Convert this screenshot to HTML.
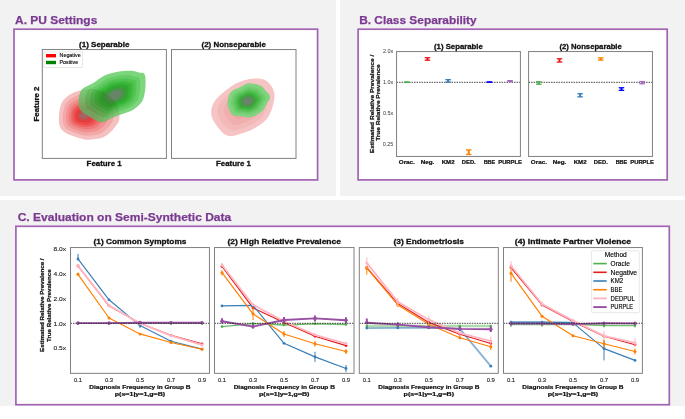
<!DOCTYPE html>
<html><head><meta charset="utf-8"><style>
html,body{margin:0;padding:0;background:#fff;overflow:hidden}
svg{display:block;will-change:transform}
text{font-family:"Liberation Sans", sans-serif}
</style></head><body>
<svg width="685" height="419" viewBox="0 0 685 419">
<rect x="0.00" y="0.00" width="685.00" height="419.00" fill="#ffffff" />
<rect x="0.00" y="0.00" width="336.00" height="196.20" fill="#f2f2f2" />
<rect x="340.00" y="0.00" width="345.00" height="196.20" fill="#f2f2f2" />
<rect x="0.00" y="200.20" width="685.00" height="205.80" fill="#f2f2f2" />
<rect x="14.00" y="29.20" width="303.60" height="150.70" fill="#ffffff" stroke="#a263b3" stroke-width="1.7" />
<rect x="358.10" y="29.20" width="309.10" height="150.70" fill="#ffffff" stroke="#a263b3" stroke-width="1.7" />
<rect x="15.90" y="226.30" width="653.40" height="178.40" fill="#ffffff" stroke="#a263b3" stroke-width="1.7" />
<text x="15.10" y="24.20" font-size="11.6" text-anchor="start" fill="#7b3a92" font-weight="bold" stroke="#7b3a92" stroke-width="0.250" textLength="82.20" lengthAdjust="spacingAndGlyphs">A. PU Settings</text>
<text x="359.20" y="24.10" font-size="11.6" text-anchor="start" fill="#7b3a92" font-weight="bold" stroke="#7b3a92" stroke-width="0.250" textLength="117.50" lengthAdjust="spacingAndGlyphs">B. Class Separability</text>
<text x="17.70" y="220.70" font-size="11.6" text-anchor="start" fill="#7b3a92" font-weight="bold" stroke="#7b3a92" stroke-width="0.250" textLength="213.50" lengthAdjust="spacingAndGlyphs">C. Evaluation on Semi-Synthetic Data</text>
<defs>
<clipPath id="cA1"><rect x="42.3" y="49.55" width="124.10000000000001" height="108.85000000000001"/></clipPath>
<clipPath id="cA2"><rect x="171.5" y="49.55" width="124.5" height="108.85000000000001"/></clipPath>
</defs>
<g clip-path="url(#cA1)">
<path d="M78.90,90.70 C75.28,91.58 73.03,92.50 70.30,94.30 C67.57,96.10 64.33,98.55 62.50,101.50 C60.67,104.45 59.87,108.32 59.30,112.00 C58.73,115.68 58.65,120.60 59.10,123.60 C59.55,126.60 60.13,128.08 62.00,130.00 C63.87,131.92 66.53,133.53 70.30,135.10 C74.07,136.67 80.48,138.75 84.60,139.40 C88.72,140.05 91.90,139.37 95.00,139.00 C98.10,138.63 100.63,138.33 103.20,137.20 C105.77,136.07 108.02,134.47 110.40,132.20 C112.78,129.93 115.98,126.13 117.50,123.60 C119.02,121.07 119.58,120.27 119.50,117.00 C119.42,113.73 119.42,108.00 117.00,104.00 C114.58,100.00 109.17,95.50 105.00,93.00 C100.83,90.50 96.35,89.38 92.00,89.00 C87.65,88.62 82.52,89.82 78.90,90.70Z" fill="#f5c0c0"/>
<path d="M79.59,94.67 C76.55,95.41 74.66,96.18 72.36,97.69 C70.07,99.20 67.35,101.26 65.81,103.74 C64.27,106.22 63.60,109.47 63.12,112.56 C62.65,115.65 62.58,119.78 62.96,122.30 C63.33,124.82 63.82,126.07 65.39,127.68 C66.96,129.29 69.20,130.65 72.36,131.96 C75.53,133.28 80.92,135.03 84.38,135.58 C87.83,136.12 90.51,135.55 93.11,135.24 C95.72,134.93 97.84,134.68 100.00,133.73 C102.16,132.78 104.05,131.43 106.05,129.53 C108.05,127.62 110.74,124.43 112.01,122.30 C113.29,120.18 113.76,119.50 113.69,116.76 C113.62,114.02 113.62,109.20 111.59,105.84 C109.56,102.48 105.01,98.70 101.51,96.60 C98.01,94.50 94.25,93.56 90.59,93.24 C86.94,92.92 82.63,93.93 79.59,94.67Z" fill="#f3a8a8"/>
<path d="M80.19,98.14 C77.66,98.76 76.08,99.40 74.17,100.66 C72.26,101.92 69.99,103.64 68.71,105.70 C67.43,107.77 66.87,110.47 66.47,113.05 C66.07,115.63 66.02,119.07 66.33,121.17 C66.64,123.27 67.05,124.31 68.36,125.65 C69.67,126.99 71.53,128.12 74.17,129.22 C76.81,130.32 81.30,131.78 84.18,132.23 C87.06,132.69 89.29,132.21 91.46,131.95 C93.63,131.69 95.40,131.48 97.20,130.69 C99.00,129.90 100.57,128.78 102.24,127.19 C103.91,125.60 106.15,122.94 107.21,121.17 C108.27,119.40 108.67,118.84 108.61,116.55 C108.55,114.26 108.55,110.25 106.86,107.45 C105.17,104.65 101.38,101.50 98.46,99.75 C95.54,98.00 92.41,97.22 89.36,96.95 C86.31,96.68 82.72,97.52 80.19,98.14Z" fill="#f19090"/>
<path d="M80.71,101.12 C78.61,101.63 77.30,102.16 75.72,103.20 C74.13,104.25 72.26,105.67 71.19,107.38 C70.13,109.09 69.67,111.33 69.34,113.47 C69.01,115.61 68.96,118.46 69.22,120.20 C69.48,121.94 69.82,122.80 70.90,123.91 C71.99,125.02 73.53,125.96 75.72,126.87 C77.90,127.78 81.62,128.98 84.01,129.36 C86.40,129.74 88.25,129.34 90.04,129.13 C91.84,128.92 93.31,128.74 94.80,128.09 C96.29,127.43 97.59,126.50 98.98,125.19 C100.36,123.87 102.21,121.67 103.09,120.20 C103.97,118.73 104.30,118.26 104.25,116.37 C104.21,114.48 104.21,111.15 102.80,108.83 C101.40,106.51 98.26,103.90 95.84,102.45 C93.43,101.00 90.83,100.35 88.30,100.13 C85.78,99.91 82.80,100.60 80.71,101.12Z" fill="#ef7878"/>
<path d="M81.14,103.60 C79.40,104.02 78.32,104.46 77.01,105.32 C75.70,106.19 74.14,107.36 73.26,108.78 C72.38,110.20 72.00,112.05 71.73,113.82 C71.46,115.59 71.42,117.95 71.63,119.39 C71.85,120.83 72.13,121.54 73.02,122.46 C73.92,123.38 75.20,124.16 77.01,124.91 C78.82,125.66 81.90,126.66 83.87,126.97 C85.85,127.28 87.38,126.96 88.86,126.78 C90.35,126.60 91.57,126.46 92.80,125.92 C94.03,125.37 95.11,124.60 96.26,123.52 C97.40,122.43 98.94,120.60 99.66,119.39 C100.39,118.17 100.66,117.79 100.62,116.22 C100.58,114.65 100.58,111.90 99.42,109.98 C98.26,108.06 95.66,105.90 93.66,104.70 C91.66,103.50 89.51,102.96 87.42,102.78 C85.34,102.60 82.87,103.17 81.14,103.60Z" fill="#ee6060"/>
<path d="M81.52,105.83 C80.11,106.17 79.23,106.53 78.17,107.23 C77.10,107.93 75.84,108.89 75.13,110.04 C74.41,111.19 74.10,112.70 73.88,114.14 C73.66,115.57 73.63,117.49 73.80,118.66 C73.98,119.83 74.20,120.41 74.93,121.16 C75.66,121.90 76.70,122.53 78.17,123.14 C79.64,123.76 82.14,124.57 83.75,124.82 C85.35,125.07 86.59,124.81 87.80,124.67 C89.01,124.52 90.00,124.41 91.00,123.96 C92.00,123.52 92.88,122.90 93.81,122.01 C94.74,121.13 95.99,119.65 96.58,118.66 C97.17,117.67 97.39,117.36 97.36,116.08 C97.32,114.81 97.32,112.58 96.38,111.02 C95.44,109.45 93.33,107.70 91.70,106.72 C90.08,105.75 88.33,105.31 86.63,105.16 C84.94,105.02 82.93,105.48 81.52,105.83Z" fill="#ee4848"/>
<path d="M81.91,108.06 C80.82,108.33 80.15,108.60 79.33,109.14 C78.51,109.68 77.54,110.41 76.99,111.30 C76.44,112.19 76.20,113.34 76.03,114.45 C75.86,115.56 75.83,117.03 75.97,117.93 C76.11,118.83 76.28,119.27 76.84,119.85 C77.40,120.42 78.20,120.91 79.33,121.38 C80.46,121.85 82.39,122.47 83.62,122.67 C84.86,122.87 85.81,122.66 86.74,122.55 C87.67,122.44 88.43,122.35 89.20,122.01 C89.97,121.67 90.64,121.19 91.36,120.51 C92.08,119.83 93.04,118.69 93.49,117.93 C93.95,117.17 94.12,116.93 94.09,115.95 C94.06,114.97 94.06,113.25 93.34,112.05 C92.62,110.85 90.99,109.50 89.74,108.75 C88.49,108.00 87.15,107.66 85.84,107.55 C84.53,107.44 83.00,107.80 81.91,108.06Z" fill="#e23e3e"/>
<path d="M82.34,110.54 C81.62,110.72 81.17,110.90 80.62,111.26 C80.07,111.62 79.43,112.11 79.06,112.70 C78.69,113.29 78.53,114.06 78.42,114.80 C78.31,115.54 78.29,116.52 78.38,117.12 C78.47,117.72 78.59,118.02 78.96,118.40 C79.33,118.78 79.87,119.11 80.62,119.42 C81.37,119.73 82.66,120.15 83.48,120.28 C84.30,120.41 84.94,120.27 85.56,120.20 C86.18,120.13 86.69,120.07 87.20,119.84 C87.71,119.61 88.16,119.29 88.64,118.84 C89.12,118.39 89.76,117.63 90.06,117.12 C90.36,116.61 90.48,116.45 90.46,115.80 C90.44,115.15 90.44,114.00 89.96,113.20 C89.48,112.40 88.39,111.50 87.56,111.00 C86.73,110.50 85.83,110.28 84.96,110.20 C84.09,110.12 83.06,110.36 82.34,110.54Z" fill="#c45050"/>
<path d="M82.73,112.77 C82.33,112.87 82.08,112.97 81.78,113.17 C81.48,113.37 81.12,113.64 80.92,113.96 C80.72,114.28 80.63,114.71 80.57,115.11 C80.51,115.52 80.50,116.06 80.55,116.39 C80.60,116.72 80.66,116.88 80.87,117.09 C81.07,117.31 81.37,117.48 81.78,117.66 C82.20,117.83 82.90,118.06 83.35,118.13 C83.81,118.20 84.16,118.13 84.50,118.08 C84.84,118.04 85.12,118.01 85.40,117.89 C85.68,117.76 85.93,117.59 86.19,117.34 C86.45,117.09 86.81,116.67 86.97,116.39 C87.14,116.11 87.20,116.02 87.19,115.67 C87.18,115.31 87.18,114.67 86.92,114.23 C86.65,113.80 86.06,113.30 85.60,113.03 C85.14,112.75 84.65,112.63 84.17,112.58 C83.69,112.54 83.12,112.67 82.73,112.77Z" fill="#a46666"/>
<g>
<path d="M144.70,74.50 C143.60,72.27 141.13,73.23 138.90,72.60 C136.67,71.97 134.80,70.85 131.30,70.70 C127.80,70.55 122.35,70.90 117.90,71.70 C113.45,72.50 108.72,73.60 104.60,75.50 C100.48,77.40 97.02,80.72 93.20,83.10 C89.38,85.48 84.10,87.10 81.70,89.80 C79.30,92.50 79.12,96.12 78.80,99.30 C78.48,102.48 78.27,106.20 79.80,108.90 C81.33,111.60 84.50,113.28 88.00,115.50 C91.50,117.72 97.13,121.62 100.80,122.20 C104.47,122.78 107.13,120.10 110.00,119.00 C112.87,117.90 114.45,116.97 118.00,115.60 C121.55,114.23 127.63,112.73 131.30,110.80 C134.97,108.87 137.93,106.23 140.00,104.00 C142.07,101.77 142.78,100.40 143.70,97.40 C144.62,94.40 145.33,89.82 145.50,86.00 C145.67,82.18 145.80,76.73 144.70,74.50Z" fill="#7dd67d"/>
<path d="M139.53,78.19 C138.63,76.36 136.61,77.15 134.78,76.63 C132.95,76.11 131.42,75.20 128.55,75.07 C125.68,74.95 121.21,75.24 117.56,75.89 C113.91,76.55 110.03,77.45 106.65,79.01 C103.28,80.57 100.43,83.29 97.30,85.24 C94.17,87.20 89.84,88.52 87.87,90.74 C85.91,92.95 85.76,95.92 85.50,98.53 C85.24,101.14 85.06,104.18 86.32,106.40 C87.57,108.61 90.17,109.99 93.04,111.81 C95.91,113.63 100.53,116.83 103.54,117.30 C106.54,117.78 108.73,115.58 111.08,114.68 C113.43,113.78 114.73,113.01 117.64,111.89 C120.55,110.77 125.54,109.54 128.55,107.96 C131.55,106.37 133.99,104.21 135.68,102.38 C137.37,100.55 137.96,99.43 138.71,96.97 C139.47,94.51 140.05,90.75 140.19,87.62 C140.33,84.49 140.44,80.02 139.53,78.19Z" fill="#66cd66"/>
<path d="M135.80,80.86 C135.04,79.31 133.34,79.98 131.80,79.54 C130.26,79.11 128.97,78.34 126.56,78.23 C124.14,78.13 120.38,78.37 117.31,78.92 C114.24,79.47 110.97,80.23 108.13,81.55 C105.29,82.86 102.90,85.14 100.27,86.79 C97.63,88.43 93.99,89.55 92.33,91.41 C90.68,93.27 90.55,95.77 90.33,97.97 C90.11,100.16 89.96,102.73 91.02,104.59 C92.08,106.45 94.27,107.62 96.68,109.14 C99.10,110.67 102.98,113.37 105.51,113.77 C108.04,114.17 109.88,112.32 111.86,111.56 C113.84,110.80 114.93,110.16 117.38,109.21 C119.83,108.27 124.03,107.24 126.56,105.90 C129.09,104.57 131.13,102.75 132.56,101.21 C133.99,99.67 134.48,98.73 135.11,96.66 C135.75,94.59 136.24,91.42 136.35,88.79 C136.47,86.16 136.56,82.40 135.80,80.86Z" fill="#52c452"/>
<path d="M132.65,83.11 C132.01,81.81 130.58,82.38 129.28,82.01 C127.99,81.64 126.90,80.99 124.87,80.91 C122.84,80.82 119.68,81.02 117.10,81.49 C114.52,81.95 111.78,82.59 109.39,83.69 C107.00,84.79 104.99,86.72 102.78,88.10 C100.56,89.48 97.50,90.42 96.11,91.98 C94.71,93.55 94.61,95.65 94.42,97.49 C94.24,99.34 94.11,101.50 95.00,103.06 C95.89,104.63 97.73,105.60 99.76,106.89 C101.79,108.18 105.06,110.44 107.18,110.78 C109.31,111.11 110.86,109.56 112.52,108.92 C114.18,108.28 115.10,107.74 117.16,106.95 C119.22,106.16 122.75,105.29 124.87,104.16 C127.00,103.04 128.72,101.52 129.92,100.22 C131.12,98.92 131.53,98.13 132.07,96.39 C132.60,94.65 133.01,91.99 133.11,89.78 C133.21,87.57 133.28,84.41 132.65,83.11Z" fill="#40bb40"/>
<path d="M130.06,84.95 C129.52,83.86 128.32,84.33 127.22,84.02 C126.13,83.71 125.21,83.17 123.50,83.09 C121.78,83.02 119.11,83.19 116.93,83.58 C114.75,83.97 112.43,84.51 110.41,85.44 C108.40,86.38 106.70,88.00 104.83,89.17 C102.96,90.34 100.37,91.13 99.19,92.45 C98.02,93.78 97.93,95.55 97.77,97.11 C97.62,98.67 97.51,100.49 98.26,101.81 C99.01,103.13 100.56,103.96 102.28,105.05 C104.00,106.13 106.76,108.04 108.55,108.33 C110.35,108.61 111.66,107.30 113.06,106.76 C114.46,106.22 115.24,105.76 116.98,105.09 C118.72,104.42 121.70,103.69 123.50,102.74 C125.29,101.79 126.75,100.50 127.76,99.41 C128.77,98.32 129.12,97.65 129.57,96.18 C130.02,94.71 130.37,92.46 130.46,90.59 C130.54,88.72 130.60,86.05 130.06,84.95Z" fill="#34b234"/>
<path d="M127.77,86.59 C127.32,85.68 126.30,86.08 125.39,85.82 C124.47,85.56 123.71,85.10 122.27,85.04 C120.84,84.98 118.60,85.12 116.78,85.45 C114.95,85.78 113.01,86.23 111.33,87.00 C109.64,87.78 108.22,89.14 106.65,90.12 C105.09,91.10 102.92,91.76 101.94,92.87 C100.95,93.97 100.88,95.46 100.75,96.76 C100.62,98.07 100.53,99.59 101.16,100.70 C101.79,101.81 103.08,102.50 104.52,103.41 C105.95,104.31 108.26,105.91 109.77,106.15 C111.27,106.39 112.36,105.29 113.54,104.84 C114.72,104.39 115.36,104.01 116.82,103.45 C118.28,102.89 120.77,102.27 122.27,101.48 C123.78,100.69 124.99,99.61 125.84,98.69 C126.69,97.77 126.98,97.21 127.36,95.98 C127.73,94.75 128.03,92.87 128.09,91.31 C128.16,89.75 128.22,87.51 127.77,86.59Z" fill="#30a830"/>
<path d="M125.47,88.23 C125.11,87.50 124.29,87.82 123.56,87.61 C122.82,87.40 122.20,87.03 121.05,86.98 C119.89,86.93 118.10,87.05 116.63,87.31 C115.16,87.58 113.60,87.94 112.24,88.56 C110.88,89.19 109.74,90.29 108.48,91.07 C107.22,91.86 105.47,92.39 104.68,93.28 C103.89,94.17 103.83,95.37 103.72,96.42 C103.62,97.47 103.55,98.70 104.05,99.59 C104.56,100.48 105.61,101.03 106.76,101.77 C107.92,102.50 109.77,103.78 110.98,103.98 C112.19,104.17 113.07,103.28 114.02,102.92 C114.97,102.56 115.49,102.25 116.66,101.80 C117.83,101.35 119.84,100.85 121.05,100.21 C122.26,99.58 123.24,98.71 123.92,97.97 C124.60,97.23 124.84,96.78 125.14,95.79 C125.44,94.80 125.68,93.29 125.73,92.03 C125.79,90.77 125.83,88.97 125.47,88.23Z" fill="#3c9c3c"/>
<path d="M123.17,89.88 C122.90,89.32 122.28,89.56 121.72,89.40 C121.17,89.24 120.70,88.96 119.83,88.92 C118.95,88.89 117.59,88.97 116.47,89.17 C115.36,89.38 114.18,89.65 113.15,90.12 C112.12,90.60 111.25,91.43 110.30,92.03 C109.35,92.62 108.02,93.03 107.42,93.70 C106.83,94.38 106.78,95.28 106.70,96.08 C106.62,96.87 106.57,97.80 106.95,98.47 C107.33,99.15 108.12,99.57 109.00,100.12 C109.88,100.68 111.28,101.65 112.20,101.80 C113.12,101.95 113.78,101.28 114.50,101.00 C115.22,100.72 115.61,100.49 116.50,100.15 C117.39,99.81 118.91,99.43 119.83,98.95 C120.74,98.47 121.48,97.81 122.00,97.25 C122.52,96.69 122.70,96.35 122.92,95.60 C123.15,94.85 123.33,93.70 123.38,92.75 C123.42,91.80 123.45,90.43 123.17,89.88Z" fill="#558d55"/>
<path d="M120.59,91.72 C120.42,91.36 120.02,91.52 119.66,91.42 C119.31,91.31 119.01,91.14 118.45,91.11 C117.89,91.09 117.02,91.14 116.30,91.27 C115.59,91.40 114.83,91.58 114.18,91.88 C113.52,92.18 112.96,92.71 112.35,93.10 C111.74,93.48 110.90,93.74 110.51,94.17 C110.13,94.60 110.10,95.18 110.05,95.69 C110.00,96.20 109.96,96.79 110.21,97.22 C110.45,97.66 110.96,97.93 111.52,98.28 C112.08,98.63 112.98,99.26 113.57,99.35 C114.15,99.45 114.58,99.02 115.04,98.84 C115.50,98.66 115.75,98.51 116.32,98.30 C116.89,98.08 117.86,97.84 118.45,97.53 C119.03,97.22 119.51,96.80 119.84,96.44 C120.17,96.08 120.29,95.86 120.43,95.38 C120.58,94.90 120.69,94.17 120.72,93.56 C120.75,92.95 120.77,92.08 120.59,91.72Z" fill="#6a846a"/>
</g>
<clipPath id="cG1"><path d="M144.70,74.50 C143.60,72.27 141.13,73.23 138.90,72.60 C136.67,71.97 134.80,70.85 131.30,70.70 C127.80,70.55 122.35,70.90 117.90,71.70 C113.45,72.50 108.72,73.60 104.60,75.50 C100.48,77.40 97.02,80.72 93.20,83.10 C89.38,85.48 84.10,87.10 81.70,89.80 C79.30,92.50 79.12,96.12 78.80,99.30 C78.48,102.48 78.27,106.20 79.80,108.90 C81.33,111.60 84.50,113.28 88.00,115.50 C91.50,117.72 97.13,121.62 100.80,122.20 C104.47,122.78 107.13,120.10 110.00,119.00 C112.87,117.90 114.45,116.97 118.00,115.60 C121.55,114.23 127.63,112.73 131.30,110.80 C134.97,108.87 137.93,106.23 140.00,104.00 C142.07,101.77 142.78,100.40 143.70,97.40 C144.62,94.40 145.33,89.82 145.50,86.00 C145.67,82.18 145.80,76.73 144.70,74.50Z"/></clipPath>
<g clip-path="url(#cG1)" opacity="0.35" style="mix-blend-mode:multiply">
<path d="M78.90,90.70 C75.28,91.58 73.03,92.50 70.30,94.30 C67.57,96.10 64.33,98.55 62.50,101.50 C60.67,104.45 59.87,108.32 59.30,112.00 C58.73,115.68 58.65,120.60 59.10,123.60 C59.55,126.60 60.13,128.08 62.00,130.00 C63.87,131.92 66.53,133.53 70.30,135.10 C74.07,136.67 80.48,138.75 84.60,139.40 C88.72,140.05 91.90,139.37 95.00,139.00 C98.10,138.63 100.63,138.33 103.20,137.20 C105.77,136.07 108.02,134.47 110.40,132.20 C112.78,129.93 115.98,126.13 117.50,123.60 C119.02,121.07 119.58,120.27 119.50,117.00 C119.42,113.73 119.42,108.00 117.00,104.00 C114.58,100.00 109.17,95.50 105.00,93.00 C100.83,90.50 96.35,89.38 92.00,89.00 C87.65,88.62 82.52,89.82 78.90,90.70Z" fill="#f5c0c0"/>
<path d="M79.59,94.67 C76.55,95.41 74.66,96.18 72.36,97.69 C70.07,99.20 67.35,101.26 65.81,103.74 C64.27,106.22 63.60,109.47 63.12,112.56 C62.65,115.65 62.58,119.78 62.96,122.30 C63.33,124.82 63.82,126.07 65.39,127.68 C66.96,129.29 69.20,130.65 72.36,131.96 C75.53,133.28 80.92,135.03 84.38,135.58 C87.83,136.12 90.51,135.55 93.11,135.24 C95.72,134.93 97.84,134.68 100.00,133.73 C102.16,132.78 104.05,131.43 106.05,129.53 C108.05,127.62 110.74,124.43 112.01,122.30 C113.29,120.18 113.76,119.50 113.69,116.76 C113.62,114.02 113.62,109.20 111.59,105.84 C109.56,102.48 105.01,98.70 101.51,96.60 C98.01,94.50 94.25,93.56 90.59,93.24 C86.94,92.92 82.63,93.93 79.59,94.67Z" fill="#f3a8a8"/>
<path d="M80.19,98.14 C77.66,98.76 76.08,99.40 74.17,100.66 C72.26,101.92 69.99,103.64 68.71,105.70 C67.43,107.77 66.87,110.47 66.47,113.05 C66.07,115.63 66.02,119.07 66.33,121.17 C66.64,123.27 67.05,124.31 68.36,125.65 C69.67,126.99 71.53,128.12 74.17,129.22 C76.81,130.32 81.30,131.78 84.18,132.23 C87.06,132.69 89.29,132.21 91.46,131.95 C93.63,131.69 95.40,131.48 97.20,130.69 C99.00,129.90 100.57,128.78 102.24,127.19 C103.91,125.60 106.15,122.94 107.21,121.17 C108.27,119.40 108.67,118.84 108.61,116.55 C108.55,114.26 108.55,110.25 106.86,107.45 C105.17,104.65 101.38,101.50 98.46,99.75 C95.54,98.00 92.41,97.22 89.36,96.95 C86.31,96.68 82.72,97.52 80.19,98.14Z" fill="#f19090"/>
<path d="M80.71,101.12 C78.61,101.63 77.30,102.16 75.72,103.20 C74.13,104.25 72.26,105.67 71.19,107.38 C70.13,109.09 69.67,111.33 69.34,113.47 C69.01,115.61 68.96,118.46 69.22,120.20 C69.48,121.94 69.82,122.80 70.90,123.91 C71.99,125.02 73.53,125.96 75.72,126.87 C77.90,127.78 81.62,128.98 84.01,129.36 C86.40,129.74 88.25,129.34 90.04,129.13 C91.84,128.92 93.31,128.74 94.80,128.09 C96.29,127.43 97.59,126.50 98.98,125.19 C100.36,123.87 102.21,121.67 103.09,120.20 C103.97,118.73 104.30,118.26 104.25,116.37 C104.21,114.48 104.21,111.15 102.80,108.83 C101.40,106.51 98.26,103.90 95.84,102.45 C93.43,101.00 90.83,100.35 88.30,100.13 C85.78,99.91 82.80,100.60 80.71,101.12Z" fill="#ef7878"/>
<path d="M81.14,103.60 C79.40,104.02 78.32,104.46 77.01,105.32 C75.70,106.19 74.14,107.36 73.26,108.78 C72.38,110.20 72.00,112.05 71.73,113.82 C71.46,115.59 71.42,117.95 71.63,119.39 C71.85,120.83 72.13,121.54 73.02,122.46 C73.92,123.38 75.20,124.16 77.01,124.91 C78.82,125.66 81.90,126.66 83.87,126.97 C85.85,127.28 87.38,126.96 88.86,126.78 C90.35,126.60 91.57,126.46 92.80,125.92 C94.03,125.37 95.11,124.60 96.26,123.52 C97.40,122.43 98.94,120.60 99.66,119.39 C100.39,118.17 100.66,117.79 100.62,116.22 C100.58,114.65 100.58,111.90 99.42,109.98 C98.26,108.06 95.66,105.90 93.66,104.70 C91.66,103.50 89.51,102.96 87.42,102.78 C85.34,102.60 82.87,103.17 81.14,103.60Z" fill="#ee6060"/>
<path d="M81.52,105.83 C80.11,106.17 79.23,106.53 78.17,107.23 C77.10,107.93 75.84,108.89 75.13,110.04 C74.41,111.19 74.10,112.70 73.88,114.14 C73.66,115.57 73.63,117.49 73.80,118.66 C73.98,119.83 74.20,120.41 74.93,121.16 C75.66,121.90 76.70,122.53 78.17,123.14 C79.64,123.76 82.14,124.57 83.75,124.82 C85.35,125.07 86.59,124.81 87.80,124.67 C89.01,124.52 90.00,124.41 91.00,123.96 C92.00,123.52 92.88,122.90 93.81,122.01 C94.74,121.13 95.99,119.65 96.58,118.66 C97.17,117.67 97.39,117.36 97.36,116.08 C97.32,114.81 97.32,112.58 96.38,111.02 C95.44,109.45 93.33,107.70 91.70,106.72 C90.08,105.75 88.33,105.31 86.63,105.16 C84.94,105.02 82.93,105.48 81.52,105.83Z" fill="#ee4848"/>
<path d="M81.91,108.06 C80.82,108.33 80.15,108.60 79.33,109.14 C78.51,109.68 77.54,110.41 76.99,111.30 C76.44,112.19 76.20,113.34 76.03,114.45 C75.86,115.56 75.83,117.03 75.97,117.93 C76.11,118.83 76.28,119.27 76.84,119.85 C77.40,120.42 78.20,120.91 79.33,121.38 C80.46,121.85 82.39,122.47 83.62,122.67 C84.86,122.87 85.81,122.66 86.74,122.55 C87.67,122.44 88.43,122.35 89.20,122.01 C89.97,121.67 90.64,121.19 91.36,120.51 C92.08,119.83 93.04,118.69 93.49,117.93 C93.95,117.17 94.12,116.93 94.09,115.95 C94.06,114.97 94.06,113.25 93.34,112.05 C92.62,110.85 90.99,109.50 89.74,108.75 C88.49,108.00 87.15,107.66 85.84,107.55 C84.53,107.44 83.00,107.80 81.91,108.06Z" fill="#e23e3e"/>
<path d="M82.34,110.54 C81.62,110.72 81.17,110.90 80.62,111.26 C80.07,111.62 79.43,112.11 79.06,112.70 C78.69,113.29 78.53,114.06 78.42,114.80 C78.31,115.54 78.29,116.52 78.38,117.12 C78.47,117.72 78.59,118.02 78.96,118.40 C79.33,118.78 79.87,119.11 80.62,119.42 C81.37,119.73 82.66,120.15 83.48,120.28 C84.30,120.41 84.94,120.27 85.56,120.20 C86.18,120.13 86.69,120.07 87.20,119.84 C87.71,119.61 88.16,119.29 88.64,118.84 C89.12,118.39 89.76,117.63 90.06,117.12 C90.36,116.61 90.48,116.45 90.46,115.80 C90.44,115.15 90.44,114.00 89.96,113.20 C89.48,112.40 88.39,111.50 87.56,111.00 C86.73,110.50 85.83,110.28 84.96,110.20 C84.09,110.12 83.06,110.36 82.34,110.54Z" fill="#c45050"/>
<path d="M82.73,112.77 C82.33,112.87 82.08,112.97 81.78,113.17 C81.48,113.37 81.12,113.64 80.92,113.96 C80.72,114.28 80.63,114.71 80.57,115.11 C80.51,115.52 80.50,116.06 80.55,116.39 C80.60,116.72 80.66,116.88 80.87,117.09 C81.07,117.31 81.37,117.48 81.78,117.66 C82.20,117.83 82.90,118.06 83.35,118.13 C83.81,118.20 84.16,118.13 84.50,118.08 C84.84,118.04 85.12,118.01 85.40,117.89 C85.68,117.76 85.93,117.59 86.19,117.34 C86.45,117.09 86.81,116.67 86.97,116.39 C87.14,116.11 87.20,116.02 87.19,115.67 C87.18,115.31 87.18,114.67 86.92,114.23 C86.65,113.80 86.06,113.30 85.60,113.03 C85.14,112.75 84.65,112.63 84.17,112.58 C83.69,112.54 83.12,112.67 82.73,112.77Z" fill="#a46666"/>
</g></g>
<g clip-path="url(#cA2)">
<path d="M255.30,78.50 C259.37,78.50 263.58,78.73 266.70,80.90 C269.82,83.07 272.92,87.57 274.00,91.50 C275.08,95.43 274.42,99.90 273.20,104.50 C271.98,109.10 269.95,115.05 266.70,119.10 C263.45,123.15 258.15,126.32 253.70,128.80 C249.25,131.28 244.05,132.78 240.00,134.00 C235.95,135.22 232.67,136.70 229.40,136.10 C226.13,135.50 223.38,133.78 220.40,130.40 C217.42,127.02 212.45,120.67 211.50,115.80 C210.55,110.93 211.45,106.07 214.70,101.20 C217.95,96.33 226.40,89.98 231.00,86.60 C235.60,83.22 238.25,82.25 242.30,80.90 C246.35,79.55 251.23,78.50 255.30,78.50Z" fill="#f6c4c4"/>
<path d="M252.84,84.40 C256.09,84.40 259.47,84.59 261.96,86.32 C264.45,88.05 266.93,91.65 267.80,94.80 C268.67,97.95 268.13,101.52 267.16,105.20 C266.19,108.88 264.56,113.64 261.96,116.88 C259.36,120.12 255.12,122.65 251.56,124.64 C248.00,126.63 243.84,127.83 240.60,128.80 C237.36,129.77 234.73,130.96 232.12,130.48 C229.51,130.00 227.31,128.63 224.92,125.92 C222.53,123.21 218.56,118.13 217.80,114.24 C217.04,110.35 217.76,106.45 220.36,102.56 C222.96,98.67 229.72,93.59 233.40,90.88 C237.08,88.17 239.20,87.40 242.44,86.32 C245.68,85.24 249.59,84.40 252.84,84.40Z" fill="#f3b8b8"/>
<path d="M250.38,90.30 C252.82,90.30 255.35,90.44 257.22,91.74 C259.09,93.04 260.95,95.74 261.60,98.10 C262.25,100.46 261.85,103.14 261.12,105.90 C260.39,108.66 259.17,112.23 257.22,114.66 C255.27,117.09 252.09,118.99 249.42,120.48 C246.75,121.97 243.63,122.87 241.20,123.60 C238.77,124.33 236.80,125.22 234.84,124.86 C232.88,124.50 231.23,123.47 229.44,121.44 C227.65,119.41 224.67,115.60 224.10,112.68 C223.53,109.76 224.07,106.84 226.02,103.92 C227.97,101.00 233.04,97.19 235.80,95.16 C238.56,93.13 240.15,92.55 242.58,91.74 C245.01,90.93 247.94,90.30 250.38,90.30Z" fill="#f1aeae"/>
<path d="M247.92,96.20 C249.55,96.20 251.23,96.29 252.48,97.16 C253.73,98.03 254.97,99.83 255.40,101.40 C255.83,102.97 255.57,104.76 255.08,106.60 C254.59,108.44 253.78,110.82 252.48,112.44 C251.18,114.06 249.06,115.33 247.28,116.32 C245.50,117.31 243.42,117.91 241.80,118.40 C240.18,118.89 238.87,119.48 237.56,119.24 C236.25,119.00 235.15,118.31 233.96,116.96 C232.77,115.61 230.78,113.07 230.40,111.12 C230.02,109.17 230.38,107.23 231.68,105.28 C232.98,103.33 236.36,100.79 238.20,99.44 C240.04,98.09 241.10,97.70 242.72,97.16 C244.34,96.62 246.29,96.20 247.92,96.20Z" fill="#efa4a4"/>
<g>
<path d="M268.71,93.87 C269.46,95.11 270.19,96.68 269.98,98.13 C269.78,99.58 268.29,101.17 267.50,102.59 C266.72,104.02 266.07,105.31 265.26,106.69 C264.45,108.06 263.81,109.62 262.63,110.83 C261.45,112.05 259.76,113.02 258.18,113.96 C256.60,114.91 254.93,115.95 253.17,116.52 C251.41,117.09 249.39,117.41 247.62,117.39 C245.85,117.37 244.28,116.58 242.56,116.38 C240.83,116.17 239.00,116.43 237.27,116.17 C235.54,115.90 233.41,115.65 232.16,114.79 C230.90,113.92 230.43,112.25 229.77,110.95 C229.11,109.66 228.60,108.37 228.20,107.03 C227.79,105.70 227.33,104.33 227.34,102.92 C227.35,101.51 227.89,100.06 228.25,98.58 C228.61,97.11 228.69,95.48 229.49,94.07 C230.29,92.66 231.54,91.14 233.02,90.13 C234.51,89.11 236.72,88.77 238.40,88.00 C240.08,87.23 241.43,86.29 243.10,85.51 C244.76,84.73 246.60,83.62 248.39,83.31 C250.18,83.01 252.11,83.40 253.84,83.67 C255.57,83.94 257.29,84.33 258.79,84.94 C260.30,85.54 261.74,86.35 262.86,87.30 C263.97,88.25 264.53,89.57 265.50,90.66 C266.48,91.76 267.97,92.62 268.71,93.87Z" fill="#80d480"/>
<path d="M264.90,95.24 C265.51,96.26 266.10,97.54 265.94,98.74 C265.77,99.93 264.55,101.23 263.90,102.40 C263.26,103.57 262.73,104.63 262.06,105.75 C261.40,106.88 260.88,108.16 259.91,109.15 C258.94,110.15 257.55,110.94 256.26,111.72 C254.96,112.50 253.59,113.35 252.15,113.81 C250.71,114.28 249.05,114.55 247.60,114.53 C246.15,114.51 244.86,113.87 243.45,113.70 C242.03,113.53 240.53,113.75 239.11,113.53 C237.69,113.31 235.94,113.11 234.92,112.39 C233.89,111.68 233.50,110.31 232.96,109.25 C232.42,108.19 232.01,107.14 231.67,106.04 C231.34,104.94 230.96,103.82 230.97,102.67 C230.97,101.51 231.42,100.32 231.71,99.11 C232.01,97.90 232.08,96.57 232.73,95.41 C233.38,94.25 234.41,93.00 235.63,92.17 C236.85,91.34 238.66,91.06 240.04,90.43 C241.42,89.80 242.52,89.03 243.89,88.39 C245.26,87.75 246.76,86.84 248.23,86.59 C249.70,86.34 251.28,86.66 252.70,86.88 C254.12,87.10 255.53,87.42 256.76,87.92 C257.99,88.41 259.18,89.07 260.09,89.86 C261.01,90.64 261.46,91.72 262.26,92.61 C263.06,93.51 264.28,94.22 264.90,95.24Z" fill="#70cd70"/>
<path d="M262.14,96.23 C262.65,97.09 263.15,98.17 263.01,99.17 C262.87,100.18 261.85,101.27 261.30,102.25 C260.76,103.24 260.32,104.13 259.76,105.08 C259.20,106.03 258.76,107.10 257.94,107.94 C257.13,108.78 255.96,109.45 254.87,110.10 C253.78,110.75 252.63,111.47 251.41,111.86 C250.20,112.26 248.80,112.48 247.58,112.46 C246.36,112.45 245.28,111.91 244.09,111.77 C242.90,111.63 241.64,111.81 240.44,111.62 C239.24,111.44 237.77,111.27 236.91,110.67 C236.05,110.07 235.72,108.91 235.26,108.02 C234.81,107.13 234.46,106.24 234.18,105.32 C233.90,104.39 233.58,103.45 233.59,102.48 C233.59,101.51 233.97,100.50 234.22,99.49 C234.46,98.47 234.52,97.35 235.07,96.38 C235.62,95.40 236.49,94.35 237.51,93.65 C238.54,92.95 240.06,92.71 241.22,92.18 C242.38,91.65 243.31,91.01 244.46,90.47 C245.61,89.93 246.88,89.16 248.12,88.95 C249.35,88.74 250.68,89.01 251.87,89.20 C253.07,89.38 254.26,89.65 255.29,90.07 C256.33,90.49 257.32,91.04 258.10,91.70 C258.87,92.36 259.25,93.27 259.92,94.02 C260.60,94.78 261.62,95.38 262.14,96.23Z" fill="#5ec55e"/>
<path d="M259.80,97.07 C260.24,97.80 260.66,98.70 260.54,99.55 C260.42,100.39 259.56,101.31 259.10,102.13 C258.65,102.96 258.27,103.71 257.80,104.51 C257.33,105.31 256.96,106.21 256.28,106.91 C255.59,107.62 254.61,108.18 253.69,108.73 C252.78,109.28 251.81,109.88 250.79,110.21 C249.77,110.54 248.60,110.73 247.57,110.72 C246.54,110.70 245.63,110.25 244.63,110.13 C243.63,110.01 242.57,110.16 241.57,110.01 C240.56,109.85 239.33,109.71 238.60,109.21 C237.87,108.70 237.60,107.73 237.21,106.98 C236.83,106.23 236.54,105.49 236.31,104.71 C236.07,103.93 235.80,103.14 235.81,102.32 C235.81,101.51 236.13,100.66 236.33,99.81 C236.54,98.95 236.59,98.01 237.05,97.19 C237.52,96.37 238.24,95.49 239.10,94.90 C239.96,94.32 241.25,94.11 242.22,93.67 C243.20,93.22 243.98,92.68 244.95,92.23 C245.91,91.77 246.98,91.13 248.02,90.95 C249.06,90.77 250.17,91.00 251.18,91.16 C252.18,91.32 253.18,91.54 254.05,91.89 C254.92,92.24 255.76,92.71 256.41,93.26 C257.05,93.82 257.38,94.58 257.94,95.21 C258.51,95.85 259.37,96.35 259.80,97.07Z" fill="#4cbd4c"/>
<path d="M257.89,97.76 C258.26,98.37 258.62,99.14 258.52,99.85 C258.42,100.56 257.69,101.34 257.30,102.04 C256.92,102.73 256.60,103.37 256.20,104.04 C255.81,104.71 255.49,105.48 254.91,106.07 C254.34,106.67 253.51,107.14 252.73,107.61 C251.96,108.07 251.14,108.58 250.28,108.86 C249.42,109.14 248.43,109.30 247.56,109.29 C246.69,109.28 245.92,108.89 245.08,108.79 C244.23,108.69 243.34,108.82 242.49,108.69 C241.64,108.56 240.59,108.44 239.98,108.01 C239.37,107.58 239.13,106.77 238.81,106.13 C238.49,105.50 238.24,104.87 238.04,104.21 C237.84,103.56 237.62,102.89 237.62,102.20 C237.63,101.51 237.89,100.79 238.07,100.07 C238.24,99.35 238.29,98.55 238.68,97.86 C239.07,97.17 239.68,96.42 240.41,95.93 C241.13,95.43 242.22,95.26 243.04,94.88 C243.86,94.51 244.53,94.05 245.34,93.67 C246.16,93.28 247.06,92.74 247.94,92.59 C248.81,92.44 249.76,92.63 250.61,92.76 C251.46,92.90 252.30,93.09 253.03,93.38 C253.77,93.68 254.48,94.07 255.02,94.54 C255.57,95.01 255.84,95.65 256.32,96.19 C256.80,96.73 257.53,97.15 257.89,97.76Z" fill="#3eb43e"/>
<path d="M256.20,98.37 C256.50,98.88 256.80,99.52 256.72,100.12 C256.64,100.71 256.02,101.36 255.70,101.95 C255.38,102.53 255.12,103.06 254.78,103.63 C254.45,104.19 254.19,104.83 253.70,105.33 C253.22,105.82 252.53,106.22 251.88,106.61 C251.23,107.00 250.55,107.42 249.83,107.66 C249.10,107.89 248.27,108.02 247.55,108.02 C246.82,108.01 246.18,107.68 245.47,107.60 C244.77,107.52 244.02,107.62 243.31,107.51 C242.59,107.41 241.72,107.30 241.21,106.95 C240.70,106.59 240.50,105.91 240.23,105.38 C239.96,104.85 239.75,104.32 239.59,103.77 C239.42,103.22 239.23,102.66 239.23,102.08 C239.24,101.51 239.46,100.91 239.61,100.30 C239.75,99.70 239.79,99.03 240.12,98.45 C240.44,97.88 240.96,97.25 241.56,96.84 C242.17,96.42 243.08,96.28 243.77,95.96 C244.46,95.65 245.01,95.27 245.70,94.95 C246.38,94.63 247.13,94.17 247.87,94.04 C248.60,93.92 249.39,94.08 250.10,94.19 C250.81,94.30 251.51,94.46 252.13,94.71 C252.75,94.96 253.34,95.29 253.80,95.68 C254.25,96.07 254.48,96.61 254.88,97.06 C255.28,97.51 255.89,97.86 256.20,98.37Z" fill="#3aa83a"/>
<path d="M254.71,98.91 C254.97,99.33 255.21,99.86 255.14,100.35 C255.08,100.85 254.57,101.39 254.30,101.87 C254.03,102.36 253.82,102.80 253.54,103.26 C253.26,103.73 253.05,104.26 252.64,104.67 C252.24,105.09 251.67,105.42 251.13,105.74 C250.60,106.06 250.03,106.41 249.43,106.61 C248.83,106.80 248.14,106.91 247.54,106.90 C246.94,106.90 246.41,106.63 245.82,106.56 C245.23,106.49 244.61,106.58 244.02,106.49 C243.43,106.40 242.71,106.31 242.28,106.02 C241.86,105.72 241.69,105.15 241.47,104.71 C241.25,104.27 241.08,103.84 240.94,103.38 C240.80,102.93 240.64,102.46 240.65,101.98 C240.65,101.50 240.83,101.01 240.95,100.51 C241.08,100.01 241.11,99.45 241.38,98.97 C241.65,98.50 242.07,97.98 242.58,97.63 C243.08,97.29 243.84,97.17 244.41,96.91 C244.98,96.65 245.44,96.33 246.00,96.06 C246.57,95.80 247.19,95.42 247.80,95.32 C248.41,95.21 249.07,95.35 249.66,95.44 C250.25,95.53 250.83,95.66 251.34,95.87 C251.85,96.07 252.34,96.35 252.72,96.67 C253.10,97.00 253.29,97.44 253.62,97.82 C253.95,98.19 254.46,98.48 254.71,98.91Z" fill="#489a48"/>
<path d="M253.23,99.44 C253.43,99.78 253.63,100.20 253.57,100.59 C253.52,100.98 253.11,101.41 252.90,101.80 C252.69,102.18 252.52,102.53 252.30,102.90 C252.08,103.27 251.90,103.69 251.59,104.02 C251.27,104.35 250.81,104.61 250.38,104.87 C249.96,105.12 249.51,105.40 249.03,105.55 C248.56,105.71 248.01,105.80 247.53,105.79 C247.05,105.78 246.63,105.57 246.17,105.52 C245.70,105.46 245.21,105.53 244.74,105.46 C244.27,105.39 243.69,105.32 243.36,105.09 C243.02,104.85 242.89,104.40 242.71,104.05 C242.53,103.70 242.40,103.36 242.29,102.99 C242.18,102.63 242.05,102.26 242.06,101.88 C242.06,101.50 242.21,101.11 242.30,100.71 C242.40,100.31 242.42,99.88 242.64,99.49 C242.85,99.11 243.19,98.70 243.59,98.43 C243.99,98.16 244.59,98.06 245.04,97.85 C245.50,97.65 245.86,97.39 246.31,97.18 C246.76,96.97 247.26,96.67 247.74,96.59 C248.22,96.51 248.74,96.61 249.21,96.69 C249.68,96.76 250.14,96.86 250.55,97.03 C250.96,97.19 251.34,97.41 251.65,97.67 C251.95,97.92 252.10,98.28 252.36,98.57 C252.62,98.87 253.03,99.10 253.23,99.44Z" fill="#5a8c5a"/>
<path d="M251.74,99.97 C251.89,100.22 252.04,100.54 252.00,100.83 C251.96,101.12 251.66,101.43 251.50,101.72 C251.34,102.00 251.21,102.26 251.05,102.54 C250.89,102.81 250.76,103.12 250.53,103.37 C250.29,103.61 249.95,103.80 249.64,103.99 C249.32,104.18 248.99,104.39 248.63,104.50 C248.28,104.62 247.88,104.68 247.52,104.68 C247.17,104.67 246.86,104.52 246.51,104.48 C246.17,104.43 245.80,104.49 245.45,104.43 C245.11,104.38 244.68,104.33 244.43,104.16 C244.18,103.98 244.09,103.65 243.95,103.39 C243.82,103.13 243.72,102.87 243.64,102.61 C243.56,102.34 243.47,102.07 243.47,101.78 C243.47,101.50 243.58,101.21 243.65,100.92 C243.72,100.62 243.74,100.30 243.90,100.01 C244.06,99.73 244.31,99.43 244.60,99.23 C244.90,99.02 245.34,98.95 245.68,98.80 C246.02,98.65 246.29,98.46 246.62,98.30 C246.95,98.15 247.32,97.92 247.68,97.86 C248.04,97.80 248.42,97.88 248.77,97.93 C249.11,97.99 249.46,98.07 249.76,98.19 C250.06,98.31 250.35,98.47 250.57,98.66 C250.79,98.85 250.91,99.11 251.10,99.33 C251.30,99.55 251.59,99.72 251.74,99.97Z" fill="#6a846a"/>
</g></g>
<rect x="42.30" y="49.55" width="124.10" height="108.85" fill="none" stroke="#808080" stroke-width="1.0" />
<rect x="171.50" y="49.55" width="124.50" height="108.85" fill="none" stroke="#808080" stroke-width="1.0" />
<rect x="44.00" y="52.00" width="38.60" height="15.40" fill="rgba(255,255,255,0.8)" stroke="#d0d0d0" stroke-width="0.5" />
<rect x="46.00" y="54.00" width="10.00" height="3.40" fill="#ff0000" />
<rect x="46.00" y="60.80" width="10.00" height="3.40" fill="#008000" />
<text x="59.60" y="57.30" font-size="4.8" text-anchor="start" fill="#000000" stroke="#000000" stroke-width="0.120" textLength="21.00" lengthAdjust="spacingAndGlyphs">Negative</text>
<text x="59.60" y="64.10" font-size="4.8" text-anchor="start" fill="#000000" stroke="#000000" stroke-width="0.120" textLength="18.50" lengthAdjust="spacingAndGlyphs">Positive</text>
<text x="104.20" y="46.90" font-size="7" text-anchor="middle" fill="#111111" font-weight="bold" stroke="#111111" stroke-width="0.280" textLength="50.40" lengthAdjust="spacingAndGlyphs">(1) Separable</text>
<text x="233.70" y="46.80" font-size="7" text-anchor="middle" fill="#111111" font-weight="bold" stroke="#111111" stroke-width="0.280" textLength="64.30" lengthAdjust="spacingAndGlyphs">(2) Nonseparable</text>
<text x="104.10" y="166.10" font-size="7" text-anchor="middle" fill="#111111" font-weight="bold" stroke="#111111" stroke-width="0.280" textLength="35.00" lengthAdjust="spacingAndGlyphs">Feature 1</text>
<text x="233.50" y="166.00" font-size="7" text-anchor="middle" fill="#111111" font-weight="bold" stroke="#111111" stroke-width="0.280" textLength="35.00" lengthAdjust="spacingAndGlyphs">Feature 1</text>
<text x="39.00" y="104.00" font-size="7" text-anchor="middle" fill="#111111" font-weight="bold" stroke="#111111" stroke-width="0.280" textLength="35.00" lengthAdjust="spacingAndGlyphs" transform="rotate(-90 39.00 104.00)">Feature 2</text>
<line x1="396.55" y1="82.30" x2="520.40" y2="82.30" stroke="#222222" stroke-width="0.85" stroke-dasharray="1.5,1"/>
<rect x="396.55" y="51.55" width="123.85" height="104.90" fill="none" stroke="#808080" stroke-width="1.0" />
<line x1="528.60" y1="82.30" x2="652.45" y2="82.30" stroke="#222222" stroke-width="0.85" stroke-dasharray="1.5,1"/>
<rect x="528.60" y="51.55" width="123.85" height="104.90" fill="none" stroke="#808080" stroke-width="1.0" />
<text x="393.25" y="53.30" font-size="4.8" text-anchor="end" fill="#333333" textLength="10.30" lengthAdjust="spacingAndGlyphs">2.0x</text>
<text x="393.25" y="84.05" font-size="4.8" text-anchor="end" fill="#333333" textLength="10.30" lengthAdjust="spacingAndGlyphs">1.0x</text>
<text x="393.25" y="114.80" font-size="4.8" text-anchor="end" fill="#333333" textLength="10.30" lengthAdjust="spacingAndGlyphs">0.5x</text>
<text x="393.25" y="145.55" font-size="4.8" text-anchor="end" fill="#333333" textLength="10.40" lengthAdjust="spacingAndGlyphs">0.25</text>
<text x="374.00" y="104.00" font-size="5.6" text-anchor="middle" fill="#111111" font-weight="bold" stroke="#111111" stroke-width="0.224" textLength="98.50" lengthAdjust="spacingAndGlyphs" transform="rotate(-90 374.00 104.00)">Estimated Relative Prevalence /</text>
<text x="380.00" y="102.60" font-size="5.6" text-anchor="middle" fill="#111111" font-weight="bold" stroke="#111111" stroke-width="0.224" textLength="76.30" lengthAdjust="spacingAndGlyphs" transform="rotate(-90 380.00 102.60)">True Relative Prevalence</text>
<text x="458.40" y="48.70" font-size="6.8" text-anchor="middle" fill="#111111" font-weight="bold" stroke="#111111" stroke-width="0.272" textLength="48.80" lengthAdjust="spacingAndGlyphs">(1) Separable</text>
<text x="590.60" y="48.70" font-size="6.8" text-anchor="middle" fill="#111111" font-weight="bold" stroke="#111111" stroke-width="0.272" textLength="62.40" lengthAdjust="spacingAndGlyphs">(2) Nonseparable</text>
<text x="406.80" y="163.80" font-size="5.5" text-anchor="middle" fill="#111111" font-weight="bold" stroke="#111111" stroke-width="0.220" textLength="16.10" lengthAdjust="spacingAndGlyphs">Orac.</text>
<text x="427.45" y="163.80" font-size="5.5" text-anchor="middle" fill="#111111" font-weight="bold" stroke="#111111" stroke-width="0.220" textLength="13.60" lengthAdjust="spacingAndGlyphs">Neg.</text>
<text x="448.10" y="163.80" font-size="5.5" text-anchor="middle" fill="#111111" font-weight="bold" stroke="#111111" stroke-width="0.220" textLength="12.85" lengthAdjust="spacingAndGlyphs">KM2</text>
<text x="468.75" y="163.80" font-size="5.5" text-anchor="middle" fill="#111111" font-weight="bold" stroke="#111111" stroke-width="0.220" textLength="14.00" lengthAdjust="spacingAndGlyphs">DED.</text>
<text x="489.40" y="163.80" font-size="5.5" text-anchor="middle" fill="#111111" font-weight="bold" stroke="#111111" stroke-width="0.220" textLength="11.50" lengthAdjust="spacingAndGlyphs">BBE</text>
<text x="510.05" y="163.80" font-size="5.5" text-anchor="middle" fill="#111111" font-weight="bold" stroke="#111111" stroke-width="0.220" textLength="23.50" lengthAdjust="spacingAndGlyphs">PURPLE</text>
<text x="538.85" y="163.80" font-size="5.5" text-anchor="middle" fill="#111111" font-weight="bold" stroke="#111111" stroke-width="0.220" textLength="16.10" lengthAdjust="spacingAndGlyphs">Orac.</text>
<text x="559.50" y="163.80" font-size="5.5" text-anchor="middle" fill="#111111" font-weight="bold" stroke="#111111" stroke-width="0.220" textLength="13.60" lengthAdjust="spacingAndGlyphs">Neg.</text>
<text x="580.15" y="163.80" font-size="5.5" text-anchor="middle" fill="#111111" font-weight="bold" stroke="#111111" stroke-width="0.220" textLength="12.85" lengthAdjust="spacingAndGlyphs">KM2</text>
<text x="600.80" y="163.80" font-size="5.5" text-anchor="middle" fill="#111111" font-weight="bold" stroke="#111111" stroke-width="0.220" textLength="14.00" lengthAdjust="spacingAndGlyphs">DED.</text>
<text x="621.45" y="163.80" font-size="5.5" text-anchor="middle" fill="#111111" font-weight="bold" stroke="#111111" stroke-width="0.220" textLength="11.50" lengthAdjust="spacingAndGlyphs">BBE</text>
<text x="642.10" y="163.80" font-size="5.5" text-anchor="middle" fill="#111111" font-weight="bold" stroke="#111111" stroke-width="0.220" textLength="23.50" lengthAdjust="spacingAndGlyphs">PURPLE</text>
<line x1="406.80" y1="81.95" x2="406.80" y2="82.45" stroke="#4daf4a" stroke-width="2.0" />
<line x1="404.05" y1="81.95" x2="409.55" y2="81.95" stroke="#4daf4a" stroke-width="1.3" />
<line x1="404.05" y1="82.45" x2="409.55" y2="82.45" stroke="#4daf4a" stroke-width="1.3" />
<line x1="427.45" y1="57.75" x2="427.45" y2="60.25" stroke="#e41a1c" stroke-width="2.0" />
<line x1="424.70" y1="57.75" x2="430.20" y2="57.75" stroke="#e41a1c" stroke-width="1.3" />
<line x1="424.70" y1="60.25" x2="430.20" y2="60.25" stroke="#e41a1c" stroke-width="1.3" />
<line x1="448.10" y1="79.65" x2="448.10" y2="82.15" stroke="#377eb8" stroke-width="2.0" />
<line x1="445.35" y1="79.65" x2="450.85" y2="79.65" stroke="#377eb8" stroke-width="1.3" />
<line x1="445.35" y1="82.15" x2="450.85" y2="82.15" stroke="#377eb8" stroke-width="1.3" />
<line x1="468.75" y1="149.95" x2="468.75" y2="154.45" stroke="#ff7f00" stroke-width="2.0" />
<line x1="466.00" y1="149.95" x2="471.50" y2="149.95" stroke="#ff7f00" stroke-width="1.3" />
<line x1="466.00" y1="154.45" x2="471.50" y2="154.45" stroke="#ff7f00" stroke-width="1.3" />
<line x1="489.40" y1="81.95" x2="489.40" y2="82.25" stroke="#0000ff" stroke-width="2.0" />
<line x1="486.65" y1="81.95" x2="492.15" y2="81.95" stroke="#0000ff" stroke-width="1.3" />
<line x1="486.65" y1="82.25" x2="492.15" y2="82.25" stroke="#0000ff" stroke-width="1.3" />
<line x1="510.05" y1="80.65" x2="510.05" y2="81.35" stroke="#a768bd" stroke-width="2.0" />
<line x1="507.30" y1="80.65" x2="512.80" y2="80.65" stroke="#a768bd" stroke-width="1.3" />
<line x1="507.30" y1="81.35" x2="512.80" y2="81.35" stroke="#a768bd" stroke-width="1.3" />
<line x1="538.85" y1="81.80" x2="538.85" y2="84.20" stroke="#4daf4a" stroke-width="2.0" />
<line x1="536.10" y1="81.80" x2="541.60" y2="81.80" stroke="#4daf4a" stroke-width="1.3" />
<line x1="536.10" y1="84.20" x2="541.60" y2="84.20" stroke="#4daf4a" stroke-width="1.3" />
<line x1="559.50" y1="58.75" x2="559.50" y2="62.05" stroke="#e41a1c" stroke-width="2.0" />
<line x1="556.75" y1="58.75" x2="562.25" y2="58.75" stroke="#e41a1c" stroke-width="1.3" />
<line x1="556.75" y1="62.05" x2="562.25" y2="62.05" stroke="#e41a1c" stroke-width="1.3" />
<line x1="580.15" y1="93.75" x2="580.15" y2="96.85" stroke="#377eb8" stroke-width="2.0" />
<line x1="577.40" y1="93.75" x2="582.90" y2="93.75" stroke="#377eb8" stroke-width="1.3" />
<line x1="577.40" y1="96.85" x2="582.90" y2="96.85" stroke="#377eb8" stroke-width="1.3" />
<line x1="600.80" y1="57.90" x2="600.80" y2="60.10" stroke="#ff7f00" stroke-width="2.0" />
<line x1="598.05" y1="57.90" x2="603.55" y2="57.90" stroke="#ff7f00" stroke-width="1.3" />
<line x1="598.05" y1="60.10" x2="603.55" y2="60.10" stroke="#ff7f00" stroke-width="1.3" />
<line x1="621.45" y1="87.75" x2="621.45" y2="90.35" stroke="#0000ff" stroke-width="2.0" />
<line x1="618.70" y1="87.75" x2="624.20" y2="87.75" stroke="#0000ff" stroke-width="1.3" />
<line x1="618.70" y1="90.35" x2="624.20" y2="90.35" stroke="#0000ff" stroke-width="1.3" />
<line x1="642.10" y1="81.55" x2="642.10" y2="83.75" stroke="#a768bd" stroke-width="2.0" />
<line x1="639.35" y1="81.55" x2="644.85" y2="81.55" stroke="#a768bd" stroke-width="1.3" />
<line x1="639.35" y1="83.75" x2="644.85" y2="83.75" stroke="#a768bd" stroke-width="1.3" />
<defs>
<clipPath id="cC0"><rect x="70.5" y="247.55" width="138.95" height="125.80000000000001"/></clipPath>
<clipPath id="cC1"><rect x="214.5" y="247.55" width="139.5" height="125.80000000000001"/></clipPath>
<clipPath id="cC2"><rect x="359.3" y="247.55" width="139.0" height="125.80000000000001"/></clipPath>
<clipPath id="cC3"><rect x="503.5" y="247.55" width="138.89999999999998" height="125.80000000000001"/></clipPath>
</defs>
<g clip-path="url(#cC0)">
<polyline points="78.00,323.40 109.00,323.40 140.00,323.40 171.00,323.40 202.00,323.40" fill="none" stroke="#4daf4a" stroke-width="1.3" stroke-opacity="0.85" stroke-linejoin="round"/>
<circle cx="78.00" cy="323.40" r="1.3" fill="#4daf4a"/>
<circle cx="109.00" cy="323.40" r="1.3" fill="#4daf4a"/>
<circle cx="140.00" cy="323.40" r="1.3" fill="#4daf4a"/>
<circle cx="171.00" cy="323.40" r="1.3" fill="#4daf4a"/>
<circle cx="202.00" cy="323.40" r="1.3" fill="#4daf4a"/>
<polyline points="78.00,266.00 109.00,305.80 140.00,323.20 171.00,335.30 202.00,343.80" fill="none" stroke="#e41a1c" stroke-width="1.15" stroke-opacity="1" stroke-linejoin="round"/>
<circle cx="78.00" cy="266.00" r="1.4" fill="#e41a1c"/>
<circle cx="109.00" cy="305.80" r="1.4" fill="#e41a1c"/>
<circle cx="140.00" cy="323.20" r="1.4" fill="#e41a1c"/>
<circle cx="171.00" cy="335.30" r="1.4" fill="#e41a1c"/>
<circle cx="202.00" cy="343.80" r="1.4" fill="#e41a1c"/>
<polyline points="78.00,258.90 109.00,299.80 140.00,325.60 171.00,341.30 202.00,349.10" fill="none" stroke="#377eb8" stroke-width="1.15" stroke-opacity="1" stroke-linejoin="round"/>
<line x1="78.00" y1="253.90" x2="78.00" y2="260.70" stroke="#377eb8" stroke-width="1.0" />
<circle cx="78.00" cy="258.90" r="1.4" fill="#377eb8"/>
<circle cx="109.00" cy="299.80" r="1.4" fill="#377eb8"/>
<line x1="140.00" y1="324.00" x2="140.00" y2="328.00" stroke="#377eb8" stroke-width="1.0" />
<circle cx="140.00" cy="325.60" r="1.4" fill="#377eb8"/>
<line x1="171.00" y1="340.00" x2="171.00" y2="343.00" stroke="#377eb8" stroke-width="1.0" />
<circle cx="171.00" cy="341.30" r="1.4" fill="#377eb8"/>
<circle cx="202.00" cy="349.10" r="1.4" fill="#377eb8"/>
<polyline points="78.00,274.30 109.00,318.00 140.00,333.90 171.00,342.50 202.00,349.20" fill="none" stroke="#ff7f00" stroke-width="1.15" stroke-opacity="1" stroke-linejoin="round"/>
<line x1="78.00" y1="272.50" x2="78.00" y2="275.80" stroke="#ff7f00" stroke-width="1.0" />
<circle cx="78.00" cy="274.30" r="1.5" fill="#ff7f00"/>
<line x1="109.00" y1="317.00" x2="109.00" y2="319.00" stroke="#ff7f00" stroke-width="1.0" />
<circle cx="109.00" cy="318.00" r="1.5" fill="#ff7f00"/>
<line x1="140.00" y1="333.30" x2="140.00" y2="334.50" stroke="#ff7f00" stroke-width="1.0" />
<circle cx="140.00" cy="333.90" r="1.5" fill="#ff7f00"/>
<line x1="171.00" y1="341.50" x2="171.00" y2="343.50" stroke="#ff7f00" stroke-width="1.0" />
<circle cx="171.00" cy="342.50" r="1.5" fill="#ff7f00"/>
<line x1="202.00" y1="348.60" x2="202.00" y2="349.80" stroke="#ff7f00" stroke-width="1.0" />
<circle cx="202.00" cy="349.20" r="1.5" fill="#ff7f00"/>
<polyline points="78.00,265.70 109.00,305.50 140.00,323.40 171.00,335.70 202.00,344.90" fill="none" stroke="#ffb6c1" stroke-width="1.8" stroke-opacity="1" stroke-linejoin="round"/>
<line x1="78.00" y1="264.50" x2="78.00" y2="266.90" stroke="#ffb6c1" stroke-width="1.0" />
<circle cx="78.00" cy="265.70" r="1.5" fill="#ffb6c1"/>
<line x1="109.00" y1="304.50" x2="109.00" y2="306.50" stroke="#ffb6c1" stroke-width="1.0" />
<circle cx="109.00" cy="305.50" r="1.5" fill="#ffb6c1"/>
<line x1="140.00" y1="322.40" x2="140.00" y2="324.40" stroke="#ffb6c1" stroke-width="1.0" />
<circle cx="140.00" cy="323.40" r="1.5" fill="#ffb6c1"/>
<line x1="171.00" y1="334.70" x2="171.00" y2="336.70" stroke="#ffb6c1" stroke-width="1.0" />
<circle cx="171.00" cy="335.70" r="1.5" fill="#ffb6c1"/>
<line x1="202.00" y1="343.40" x2="202.00" y2="346.40" stroke="#ffb6c1" stroke-width="1.0" />
<circle cx="202.00" cy="344.90" r="1.5" fill="#ffb6c1"/>
<polyline points="78.00,323.10 109.00,323.10 140.00,322.60 171.00,322.80 202.00,322.80" fill="none" stroke="#984ea3" stroke-width="1.9" stroke-opacity="1" stroke-linejoin="round"/>
<line x1="78.00" y1="322.40" x2="78.00" y2="323.80" stroke="#984ea3" stroke-width="2.0" />
<circle cx="78.00" cy="323.10" r="1.8" fill="#984ea3"/>
<line x1="109.00" y1="322.40" x2="109.00" y2="323.80" stroke="#984ea3" stroke-width="2.0" />
<circle cx="109.00" cy="323.10" r="1.8" fill="#984ea3"/>
<line x1="140.00" y1="321.90" x2="140.00" y2="323.30" stroke="#984ea3" stroke-width="2.0" />
<circle cx="140.00" cy="322.60" r="1.8" fill="#984ea3"/>
<line x1="171.00" y1="322.10" x2="171.00" y2="323.50" stroke="#984ea3" stroke-width="2.0" />
<circle cx="171.00" cy="322.80" r="1.8" fill="#984ea3"/>
<line x1="202.00" y1="322.10" x2="202.00" y2="323.50" stroke="#984ea3" stroke-width="2.0" />
<circle cx="202.00" cy="322.80" r="1.8" fill="#984ea3"/>
</g>
<line x1="70.50" y1="323.30" x2="209.45" y2="323.30" stroke="#222222" stroke-width="0.85" stroke-dasharray="1.5,1"/>
<rect x="70.50" y="247.55" width="138.95" height="125.80" fill="none" stroke="#808080" stroke-width="1.0" />
<text x="78.00" y="381.60" font-size="6.0" text-anchor="middle" fill="#222222" stroke="#222222" stroke-width="0.120" textLength="8.20" lengthAdjust="spacingAndGlyphs">0.1</text>
<text x="109.00" y="381.60" font-size="6.0" text-anchor="middle" fill="#222222" stroke="#222222" stroke-width="0.120" textLength="8.20" lengthAdjust="spacingAndGlyphs">0.3</text>
<text x="140.00" y="381.60" font-size="6.0" text-anchor="middle" fill="#222222" stroke="#222222" stroke-width="0.120" textLength="8.20" lengthAdjust="spacingAndGlyphs">0.5</text>
<text x="171.00" y="381.60" font-size="6.0" text-anchor="middle" fill="#222222" stroke="#222222" stroke-width="0.120" textLength="8.20" lengthAdjust="spacingAndGlyphs">0.7</text>
<text x="202.00" y="381.60" font-size="6.0" text-anchor="middle" fill="#222222" stroke="#222222" stroke-width="0.120" textLength="8.20" lengthAdjust="spacingAndGlyphs">0.9</text>
<text x="139.97" y="389.30" font-size="5.5" text-anchor="middle" fill="#111111" font-weight="bold" stroke="#111111" stroke-width="0.220" textLength="101.20" lengthAdjust="spacingAndGlyphs">Diagnosis Frequency in Group B</text>
<text x="139.97" y="395.60" font-size="5.5" text-anchor="middle" fill="#111111" font-weight="bold" stroke="#111111" stroke-width="0.220" textLength="50.40" lengthAdjust="spacingAndGlyphs">p(s=1|y=1,g=B)</text>
<g clip-path="url(#cC1)">
<polyline points="222.00,326.60 253.00,323.60 284.00,325.00 315.00,323.80 346.00,324.50" fill="none" stroke="#4daf4a" stroke-width="1.3" stroke-opacity="0.85" stroke-linejoin="round"/>
<circle cx="222.00" cy="326.60" r="1.3" fill="#4daf4a"/>
<line x1="253.00" y1="322.60" x2="253.00" y2="324.60" stroke="#4daf4a" stroke-width="1.0" />
<circle cx="253.00" cy="323.60" r="1.3" fill="#4daf4a"/>
<circle cx="284.00" cy="325.00" r="1.3" fill="#4daf4a"/>
<circle cx="315.00" cy="323.80" r="1.3" fill="#4daf4a"/>
<circle cx="346.00" cy="324.50" r="1.3" fill="#4daf4a"/>
<polyline points="222.00,266.50 253.00,307.90 284.00,322.40 315.00,336.30 346.00,345.60" fill="none" stroke="#e41a1c" stroke-width="1.15" stroke-opacity="1" stroke-linejoin="round"/>
<circle cx="222.00" cy="266.50" r="1.4" fill="#e41a1c"/>
<line x1="253.00" y1="306.90" x2="253.00" y2="308.90" stroke="#e41a1c" stroke-width="1.0" />
<circle cx="253.00" cy="307.90" r="1.4" fill="#e41a1c"/>
<circle cx="284.00" cy="322.40" r="1.4" fill="#e41a1c"/>
<circle cx="315.00" cy="336.30" r="1.4" fill="#e41a1c"/>
<line x1="346.00" y1="344.80" x2="346.00" y2="346.40" stroke="#e41a1c" stroke-width="1.0" />
<circle cx="346.00" cy="345.60" r="1.4" fill="#e41a1c"/>
<polyline points="222.00,305.90 253.00,305.40 284.00,343.30 315.00,356.90 346.00,368.50" fill="none" stroke="#377eb8" stroke-width="1.15" stroke-opacity="1" stroke-linejoin="round"/>
<circle cx="222.00" cy="305.90" r="1.4" fill="#377eb8"/>
<circle cx="253.00" cy="305.40" r="1.4" fill="#377eb8"/>
<circle cx="284.00" cy="343.30" r="1.4" fill="#377eb8"/>
<line x1="315.00" y1="351.90" x2="315.00" y2="361.90" stroke="#377eb8" stroke-width="1.0" />
<circle cx="315.00" cy="356.90" r="1.4" fill="#377eb8"/>
<line x1="346.00" y1="365.00" x2="346.00" y2="372.00" stroke="#377eb8" stroke-width="1.0" />
<circle cx="346.00" cy="368.50" r="1.4" fill="#377eb8"/>
<polyline points="222.00,272.70 253.00,313.80 284.00,334.00 315.00,343.80 346.00,351.50" fill="none" stroke="#ff7f00" stroke-width="1.15" stroke-opacity="1" stroke-linejoin="round"/>
<line x1="222.00" y1="270.20" x2="222.00" y2="275.50" stroke="#ff7f00" stroke-width="1.0" />
<circle cx="222.00" cy="272.70" r="1.5" fill="#ff7f00"/>
<line x1="253.00" y1="307.20" x2="253.00" y2="320.00" stroke="#ff7f00" stroke-width="1.0" />
<circle cx="253.00" cy="313.80" r="1.5" fill="#ff7f00"/>
<line x1="284.00" y1="331.00" x2="284.00" y2="337.00" stroke="#ff7f00" stroke-width="1.0" />
<circle cx="284.00" cy="334.00" r="1.5" fill="#ff7f00"/>
<line x1="315.00" y1="340.80" x2="315.00" y2="346.80" stroke="#ff7f00" stroke-width="1.0" />
<circle cx="315.00" cy="343.80" r="1.5" fill="#ff7f00"/>
<line x1="346.00" y1="349.00" x2="346.00" y2="354.00" stroke="#ff7f00" stroke-width="1.0" />
<circle cx="346.00" cy="351.50" r="1.5" fill="#ff7f00"/>
<polyline points="222.00,265.00 253.00,304.80 284.00,321.20 315.00,334.80 346.00,343.60" fill="none" stroke="#ffb6c1" stroke-width="1.8" stroke-opacity="1" stroke-linejoin="round"/>
<line x1="222.00" y1="263.00" x2="222.00" y2="266.50" stroke="#ffb6c1" stroke-width="1.0" />
<circle cx="222.00" cy="265.00" r="1.5" fill="#ffb6c1"/>
<line x1="253.00" y1="303.80" x2="253.00" y2="305.80" stroke="#ffb6c1" stroke-width="1.0" />
<circle cx="253.00" cy="304.80" r="1.5" fill="#ffb6c1"/>
<line x1="284.00" y1="320.20" x2="284.00" y2="322.20" stroke="#ffb6c1" stroke-width="1.0" />
<circle cx="284.00" cy="321.20" r="1.5" fill="#ffb6c1"/>
<line x1="315.00" y1="333.80" x2="315.00" y2="335.80" stroke="#ffb6c1" stroke-width="1.0" />
<circle cx="315.00" cy="334.80" r="1.5" fill="#ffb6c1"/>
<line x1="346.00" y1="342.10" x2="346.00" y2="345.10" stroke="#ffb6c1" stroke-width="1.0" />
<circle cx="346.00" cy="343.60" r="1.5" fill="#ffb6c1"/>
<polyline points="222.00,321.20 253.00,326.60 284.00,320.00 315.00,318.40 346.00,320.20" fill="none" stroke="#984ea3" stroke-width="1.9" stroke-opacity="1" stroke-linejoin="round"/>
<line x1="222.00" y1="318.20" x2="222.00" y2="323.60" stroke="#984ea3" stroke-width="2.0" />
<circle cx="222.00" cy="321.20" r="1.8" fill="#984ea3"/>
<line x1="253.00" y1="324.60" x2="253.00" y2="328.60" stroke="#984ea3" stroke-width="2.0" />
<circle cx="253.00" cy="326.60" r="1.8" fill="#984ea3"/>
<line x1="284.00" y1="317.00" x2="284.00" y2="323.00" stroke="#984ea3" stroke-width="2.0" />
<circle cx="284.00" cy="320.00" r="1.8" fill="#984ea3"/>
<line x1="315.00" y1="315.40" x2="315.00" y2="321.40" stroke="#984ea3" stroke-width="2.0" />
<circle cx="315.00" cy="318.40" r="1.8" fill="#984ea3"/>
<line x1="346.00" y1="317.20" x2="346.00" y2="323.20" stroke="#984ea3" stroke-width="2.0" />
<circle cx="346.00" cy="320.20" r="1.8" fill="#984ea3"/>
</g>
<line x1="214.50" y1="323.30" x2="354.00" y2="323.30" stroke="#222222" stroke-width="0.85" stroke-dasharray="1.5,1"/>
<rect x="214.50" y="247.55" width="139.50" height="125.80" fill="none" stroke="#808080" stroke-width="1.0" />
<text x="222.00" y="381.60" font-size="6.0" text-anchor="middle" fill="#222222" stroke="#222222" stroke-width="0.120" textLength="8.20" lengthAdjust="spacingAndGlyphs">0.1</text>
<text x="253.00" y="381.60" font-size="6.0" text-anchor="middle" fill="#222222" stroke="#222222" stroke-width="0.120" textLength="8.20" lengthAdjust="spacingAndGlyphs">0.3</text>
<text x="284.00" y="381.60" font-size="6.0" text-anchor="middle" fill="#222222" stroke="#222222" stroke-width="0.120" textLength="8.20" lengthAdjust="spacingAndGlyphs">0.5</text>
<text x="315.00" y="381.60" font-size="6.0" text-anchor="middle" fill="#222222" stroke="#222222" stroke-width="0.120" textLength="8.20" lengthAdjust="spacingAndGlyphs">0.7</text>
<text x="346.00" y="381.60" font-size="6.0" text-anchor="middle" fill="#222222" stroke="#222222" stroke-width="0.120" textLength="8.20" lengthAdjust="spacingAndGlyphs">0.9</text>
<text x="284.25" y="389.30" font-size="5.5" text-anchor="middle" fill="#111111" font-weight="bold" stroke="#111111" stroke-width="0.220" textLength="101.20" lengthAdjust="spacingAndGlyphs">Diagnosis Frequency in Group B</text>
<text x="284.25" y="395.60" font-size="5.5" text-anchor="middle" fill="#111111" font-weight="bold" stroke="#111111" stroke-width="0.220" textLength="50.40" lengthAdjust="spacingAndGlyphs">p(s=1|y=1,g=B)</text>
<g clip-path="url(#cC2)">
<polyline points="366.80,326.00 397.80,326.00 428.80,326.00 459.80,326.00 490.80,326.00" fill="none" stroke="#4daf4a" stroke-width="2.4" stroke-opacity="0.45" stroke-linejoin="round"/>
<circle cx="366.80" cy="326.00" r="1.3" fill="#4daf4a"/>
<circle cx="397.80" cy="326.00" r="1.3" fill="#4daf4a"/>
<circle cx="428.80" cy="326.00" r="1.3" fill="#4daf4a"/>
<circle cx="459.80" cy="326.00" r="1.3" fill="#4daf4a"/>
<circle cx="490.80" cy="326.00" r="1.3" fill="#4daf4a"/>
<polyline points="366.80,267.50 397.80,303.60 428.80,322.40 459.80,334.20 490.80,343.50" fill="none" stroke="#e41a1c" stroke-width="1.15" stroke-opacity="1" stroke-linejoin="round"/>
<circle cx="366.80" cy="267.50" r="1.4" fill="#e41a1c"/>
<circle cx="397.80" cy="303.60" r="1.4" fill="#e41a1c"/>
<circle cx="428.80" cy="322.40" r="1.4" fill="#e41a1c"/>
<circle cx="459.80" cy="334.20" r="1.4" fill="#e41a1c"/>
<circle cx="490.80" cy="343.50" r="1.4" fill="#e41a1c"/>
<polyline points="366.80,328.10 397.80,327.90 428.80,327.80 459.80,328.90 490.80,366.20" fill="none" stroke="#377eb8" stroke-width="1.8" stroke-opacity="0.6" stroke-linejoin="round"/>
<circle cx="366.80" cy="328.10" r="1.4" fill="#377eb8"/>
<circle cx="397.80" cy="327.90" r="1.4" fill="#377eb8"/>
<circle cx="428.80" cy="327.80" r="1.4" fill="#377eb8"/>
<circle cx="459.80" cy="328.90" r="1.4" fill="#377eb8"/>
<circle cx="490.80" cy="366.20" r="1.4" fill="#377eb8"/>
<polyline points="366.80,268.20 397.80,305.00 428.80,324.30 459.80,337.70 490.80,346.80" fill="none" stroke="#ff7f00" stroke-width="1.15" stroke-opacity="1" stroke-linejoin="round"/>
<line x1="366.80" y1="266.00" x2="366.80" y2="274.70" stroke="#ff7f00" stroke-width="1.0" />
<circle cx="366.80" cy="268.20" r="1.5" fill="#ff7f00"/>
<line x1="397.80" y1="303.50" x2="397.80" y2="306.50" stroke="#ff7f00" stroke-width="1.0" />
<circle cx="397.80" cy="305.00" r="1.5" fill="#ff7f00"/>
<line x1="428.80" y1="323.30" x2="428.80" y2="325.30" stroke="#ff7f00" stroke-width="1.0" />
<circle cx="428.80" cy="324.30" r="1.5" fill="#ff7f00"/>
<line x1="459.80" y1="336.20" x2="459.80" y2="339.20" stroke="#ff7f00" stroke-width="1.0" />
<circle cx="459.80" cy="337.70" r="1.5" fill="#ff7f00"/>
<line x1="490.80" y1="345.00" x2="490.80" y2="350.00" stroke="#ff7f00" stroke-width="1.0" />
<circle cx="490.80" cy="346.80" r="1.5" fill="#ff7f00"/>
<polyline points="366.80,262.90 397.80,301.90 428.80,319.70 459.80,333.00 490.80,341.10" fill="none" stroke="#ffb6c1" stroke-width="1.8" stroke-opacity="1" stroke-linejoin="round"/>
<line x1="366.80" y1="257.50" x2="366.80" y2="268.00" stroke="#ffb6c1" stroke-width="1.0" />
<circle cx="366.80" cy="262.90" r="1.5" fill="#ffb6c1"/>
<line x1="397.80" y1="298.00" x2="397.80" y2="306.00" stroke="#ffb6c1" stroke-width="1.0" />
<circle cx="397.80" cy="301.90" r="1.5" fill="#ffb6c1"/>
<line x1="428.80" y1="316.10" x2="428.80" y2="325.00" stroke="#ffb6c1" stroke-width="1.0" />
<circle cx="428.80" cy="319.70" r="1.5" fill="#ffb6c1"/>
<line x1="459.80" y1="331.50" x2="459.80" y2="334.50" stroke="#ffb6c1" stroke-width="1.0" />
<circle cx="459.80" cy="333.00" r="1.5" fill="#ffb6c1"/>
<line x1="490.80" y1="336.50" x2="490.80" y2="345.00" stroke="#ffb6c1" stroke-width="1.0" />
<circle cx="490.80" cy="341.10" r="1.5" fill="#ffb6c1"/>
<polyline points="366.80,322.70 397.80,324.60 428.80,327.20 459.80,328.90 490.80,329.30" fill="none" stroke="#984ea3" stroke-width="1.9" stroke-opacity="1" stroke-linejoin="round"/>
<line x1="366.80" y1="318.40" x2="366.80" y2="323.50" stroke="#984ea3" stroke-width="2.0" />
<circle cx="366.80" cy="322.70" r="1.8" fill="#984ea3"/>
<line x1="397.80" y1="322.60" x2="397.80" y2="326.60" stroke="#984ea3" stroke-width="2.0" />
<circle cx="397.80" cy="324.60" r="1.8" fill="#984ea3"/>
<circle cx="428.80" cy="327.20" r="1.8" fill="#984ea3"/>
<line x1="459.80" y1="326.50" x2="459.80" y2="331.00" stroke="#984ea3" stroke-width="2.0" />
<circle cx="459.80" cy="328.90" r="1.8" fill="#984ea3"/>
<line x1="490.80" y1="326.50" x2="490.80" y2="332.00" stroke="#984ea3" stroke-width="2.0" />
<circle cx="490.80" cy="329.30" r="1.8" fill="#984ea3"/>
</g>
<line x1="359.30" y1="323.30" x2="498.30" y2="323.30" stroke="#222222" stroke-width="0.85" stroke-dasharray="1.5,1"/>
<rect x="359.30" y="247.55" width="139.00" height="125.80" fill="none" stroke="#808080" stroke-width="1.0" />
<text x="366.80" y="381.60" font-size="6.0" text-anchor="middle" fill="#222222" stroke="#222222" stroke-width="0.120" textLength="8.20" lengthAdjust="spacingAndGlyphs">0.1</text>
<text x="397.80" y="381.60" font-size="6.0" text-anchor="middle" fill="#222222" stroke="#222222" stroke-width="0.120" textLength="8.20" lengthAdjust="spacingAndGlyphs">0.3</text>
<text x="428.80" y="381.60" font-size="6.0" text-anchor="middle" fill="#222222" stroke="#222222" stroke-width="0.120" textLength="8.20" lengthAdjust="spacingAndGlyphs">0.5</text>
<text x="459.80" y="381.60" font-size="6.0" text-anchor="middle" fill="#222222" stroke="#222222" stroke-width="0.120" textLength="8.20" lengthAdjust="spacingAndGlyphs">0.7</text>
<text x="490.80" y="381.60" font-size="6.0" text-anchor="middle" fill="#222222" stroke="#222222" stroke-width="0.120" textLength="8.20" lengthAdjust="spacingAndGlyphs">0.9</text>
<text x="428.80" y="389.30" font-size="5.5" text-anchor="middle" fill="#111111" font-weight="bold" stroke="#111111" stroke-width="0.220" textLength="101.20" lengthAdjust="spacingAndGlyphs">Diagnosis Frequency in Group B</text>
<text x="428.80" y="395.60" font-size="5.5" text-anchor="middle" fill="#111111" font-weight="bold" stroke="#111111" stroke-width="0.220" textLength="50.40" lengthAdjust="spacingAndGlyphs">p(s=1|y=1,g=B)</text>
<g clip-path="url(#cC3)">
<polyline points="511.00,324.50 542.00,324.50 573.00,324.30 604.00,325.40 635.00,325.50" fill="none" stroke="#4daf4a" stroke-width="1.6" stroke-opacity="0.8" stroke-linejoin="round"/>
<line x1="511.00" y1="322.50" x2="511.00" y2="327.00" stroke="#4daf4a" stroke-width="1.0" />
<circle cx="511.00" cy="324.50" r="1.3" fill="#4daf4a"/>
<line x1="542.00" y1="322.50" x2="542.00" y2="326.80" stroke="#4daf4a" stroke-width="1.0" />
<circle cx="542.00" cy="324.50" r="1.3" fill="#4daf4a"/>
<circle cx="573.00" cy="324.30" r="1.3" fill="#4daf4a"/>
<line x1="604.00" y1="323.00" x2="604.00" y2="327.50" stroke="#4daf4a" stroke-width="1.0" />
<circle cx="604.00" cy="325.40" r="1.3" fill="#4daf4a"/>
<line x1="635.00" y1="323.00" x2="635.00" y2="327.50" stroke="#4daf4a" stroke-width="1.0" />
<circle cx="635.00" cy="325.50" r="1.3" fill="#4daf4a"/>
<polyline points="511.00,267.60 542.00,305.00 573.00,321.60 604.00,336.30 635.00,344.70" fill="none" stroke="#e41a1c" stroke-width="1.15" stroke-opacity="1" stroke-linejoin="round"/>
<circle cx="511.00" cy="267.60" r="1.4" fill="#e41a1c"/>
<circle cx="542.00" cy="305.00" r="1.4" fill="#e41a1c"/>
<circle cx="573.00" cy="321.60" r="1.4" fill="#e41a1c"/>
<circle cx="604.00" cy="336.30" r="1.4" fill="#e41a1c"/>
<circle cx="635.00" cy="344.70" r="1.4" fill="#e41a1c"/>
<polyline points="511.00,322.60 542.00,322.60 573.00,323.00" fill="none" stroke="#9fc2e4" stroke-width="3.2"/>
<polyline points="511.00,322.20 542.00,322.20 573.00,322.90 604.00,348.60 635.00,360.40" fill="none" stroke="#377eb8" stroke-width="1.15" stroke-opacity="1" stroke-linejoin="round"/>
<circle cx="511.00" cy="322.20" r="1.4" fill="#377eb8"/>
<circle cx="542.00" cy="322.20" r="1.4" fill="#377eb8"/>
<circle cx="573.00" cy="322.90" r="1.4" fill="#377eb8"/>
<line x1="604.00" y1="340.20" x2="604.00" y2="360.40" stroke="#377eb8" stroke-width="1.0" />
<circle cx="604.00" cy="348.60" r="1.4" fill="#377eb8"/>
<circle cx="635.00" cy="360.40" r="1.4" fill="#377eb8"/>
<polyline points="511.00,273.20 542.00,316.20 573.00,335.80 604.00,343.80 635.00,351.50" fill="none" stroke="#ff7f00" stroke-width="1.15" stroke-opacity="1" stroke-linejoin="round"/>
<line x1="511.00" y1="267.90" x2="511.00" y2="281.80" stroke="#ff7f00" stroke-width="1.0" />
<circle cx="511.00" cy="273.20" r="1.5" fill="#ff7f00"/>
<line x1="542.00" y1="315.20" x2="542.00" y2="317.20" stroke="#ff7f00" stroke-width="1.0" />
<circle cx="542.00" cy="316.20" r="1.5" fill="#ff7f00"/>
<line x1="573.00" y1="334.80" x2="573.00" y2="336.80" stroke="#ff7f00" stroke-width="1.0" />
<circle cx="573.00" cy="335.80" r="1.5" fill="#ff7f00"/>
<line x1="604.00" y1="339.80" x2="604.00" y2="347.80" stroke="#ff7f00" stroke-width="1.0" />
<circle cx="604.00" cy="343.80" r="1.5" fill="#ff7f00"/>
<line x1="635.00" y1="348.50" x2="635.00" y2="354.50" stroke="#ff7f00" stroke-width="1.0" />
<circle cx="635.00" cy="351.50" r="1.5" fill="#ff7f00"/>
<polyline points="511.00,265.70 542.00,304.00 573.00,320.60 604.00,335.80 635.00,342.90" fill="none" stroke="#ffb6c1" stroke-width="1.8" stroke-opacity="1" stroke-linejoin="round"/>
<line x1="511.00" y1="261.00" x2="511.00" y2="270.00" stroke="#ffb6c1" stroke-width="1.0" />
<circle cx="511.00" cy="265.70" r="1.5" fill="#ffb6c1"/>
<line x1="542.00" y1="301.00" x2="542.00" y2="307.00" stroke="#ffb6c1" stroke-width="1.0" />
<circle cx="542.00" cy="304.00" r="1.5" fill="#ffb6c1"/>
<line x1="573.00" y1="319.10" x2="573.00" y2="322.10" stroke="#ffb6c1" stroke-width="1.0" />
<circle cx="573.00" cy="320.60" r="1.5" fill="#ffb6c1"/>
<line x1="604.00" y1="331.00" x2="604.00" y2="340.00" stroke="#ffb6c1" stroke-width="1.0" />
<circle cx="604.00" cy="335.80" r="1.5" fill="#ffb6c1"/>
<line x1="635.00" y1="338.00" x2="635.00" y2="347.00" stroke="#ffb6c1" stroke-width="1.0" />
<circle cx="635.00" cy="342.90" r="1.5" fill="#ffb6c1"/>
<polyline points="511.00,323.60 542.00,323.60 573.00,324.10 604.00,323.20 635.00,323.40" fill="none" stroke="#984ea3" stroke-width="1.9" stroke-opacity="1" stroke-linejoin="round"/>
<circle cx="511.00" cy="323.60" r="1.8" fill="#984ea3"/>
<circle cx="542.00" cy="323.60" r="1.8" fill="#984ea3"/>
<circle cx="573.00" cy="324.10" r="1.8" fill="#984ea3"/>
<circle cx="604.00" cy="323.20" r="1.8" fill="#984ea3"/>
<circle cx="635.00" cy="323.40" r="1.8" fill="#984ea3"/>
</g>
<line x1="503.50" y1="323.30" x2="642.40" y2="323.30" stroke="#222222" stroke-width="0.85" stroke-dasharray="1.5,1"/>
<rect x="503.50" y="247.55" width="138.90" height="125.80" fill="none" stroke="#808080" stroke-width="1.0" />
<text x="511.00" y="381.60" font-size="6.0" text-anchor="middle" fill="#222222" stroke="#222222" stroke-width="0.120" textLength="8.20" lengthAdjust="spacingAndGlyphs">0.1</text>
<text x="542.00" y="381.60" font-size="6.0" text-anchor="middle" fill="#222222" stroke="#222222" stroke-width="0.120" textLength="8.20" lengthAdjust="spacingAndGlyphs">0.3</text>
<text x="573.00" y="381.60" font-size="6.0" text-anchor="middle" fill="#222222" stroke="#222222" stroke-width="0.120" textLength="8.20" lengthAdjust="spacingAndGlyphs">0.5</text>
<text x="604.00" y="381.60" font-size="6.0" text-anchor="middle" fill="#222222" stroke="#222222" stroke-width="0.120" textLength="8.20" lengthAdjust="spacingAndGlyphs">0.7</text>
<text x="635.00" y="381.60" font-size="6.0" text-anchor="middle" fill="#222222" stroke="#222222" stroke-width="0.120" textLength="8.20" lengthAdjust="spacingAndGlyphs">0.9</text>
<text x="572.95" y="389.30" font-size="5.5" text-anchor="middle" fill="#111111" font-weight="bold" stroke="#111111" stroke-width="0.220" textLength="101.20" lengthAdjust="spacingAndGlyphs">Diagnosis Frequency in Group B</text>
<text x="572.95" y="395.60" font-size="5.5" text-anchor="middle" fill="#111111" font-weight="bold" stroke="#111111" stroke-width="0.220" textLength="50.40" lengthAdjust="spacingAndGlyphs">p(s=1|y=1,g=B)</text>
<text x="66.10" y="251.35" font-size="6.0" text-anchor="end" fill="#222222" stroke="#222222" stroke-width="0.120" textLength="12.50" lengthAdjust="spacingAndGlyphs">8.0x</text>
<text x="66.10" y="276.10" font-size="6.0" text-anchor="end" fill="#222222" stroke="#222222" stroke-width="0.120" textLength="12.50" lengthAdjust="spacingAndGlyphs">4.0x</text>
<text x="66.10" y="300.85" font-size="6.0" text-anchor="end" fill="#222222" stroke="#222222" stroke-width="0.120" textLength="12.50" lengthAdjust="spacingAndGlyphs">2.0x</text>
<text x="66.10" y="325.60" font-size="6.0" text-anchor="end" fill="#222222" stroke="#222222" stroke-width="0.120" textLength="12.50" lengthAdjust="spacingAndGlyphs">1.0x</text>
<text x="66.10" y="350.35" font-size="6.0" text-anchor="end" fill="#222222" stroke="#222222" stroke-width="0.120" textLength="12.50" lengthAdjust="spacingAndGlyphs">0.5x</text>
<text x="44.20" y="305.20" font-size="5.6" text-anchor="middle" fill="#111111" font-weight="bold" stroke="#111111" stroke-width="0.224" textLength="93.60" lengthAdjust="spacingAndGlyphs" transform="rotate(-90 44.20 305.20)">Estimated Relative Prevalence /</text>
<text x="51.10" y="305.70" font-size="5.6" text-anchor="middle" fill="#111111" font-weight="bold" stroke="#111111" stroke-width="0.224" textLength="72.60" lengthAdjust="spacingAndGlyphs" transform="rotate(-90 51.10 305.70)">True Relative Prevalence</text>
<text x="139.97" y="244.20" font-size="6.9" text-anchor="middle" fill="#111111" font-weight="bold" stroke="#111111" stroke-width="0.276" textLength="92.80" lengthAdjust="spacingAndGlyphs">(1) Common Symptoms</text>
<text x="284.25" y="244.20" font-size="6.9" text-anchor="middle" fill="#111111" font-weight="bold" stroke="#111111" stroke-width="0.276" textLength="113.40" lengthAdjust="spacingAndGlyphs">(2) High Relative Prevalence</text>
<text x="428.80" y="244.20" font-size="6.9" text-anchor="middle" fill="#111111" font-weight="bold" stroke="#111111" stroke-width="0.276" textLength="70.40" lengthAdjust="spacingAndGlyphs">(3) Endometriosis</text>
<text x="572.95" y="244.20" font-size="6.9" text-anchor="middle" fill="#111111" font-weight="bold" stroke="#111111" stroke-width="0.276" textLength="116.20" lengthAdjust="spacingAndGlyphs">(4) Intimate Partner Violence</text>
<rect x="591.40" y="250.80" width="47.90" height="61.90" fill="rgba(255,255,255,0.8)" stroke="#d8d8d8" stroke-width="0.6" rx="1"/>
<text x="615.75" y="257.00" font-size="6.4" text-anchor="middle" fill="#000000" stroke="#000000" stroke-width="0.128" textLength="22.10" lengthAdjust="spacingAndGlyphs">Method</text>
<line x1="593.30" y1="263.60" x2="606.70" y2="263.60" stroke="#4daf4a" stroke-width="1.6" />
<text x="610.60" y="265.90" font-size="6.4" text-anchor="start" fill="#000000" stroke="#000000" stroke-width="0.128" textLength="19.20" lengthAdjust="spacingAndGlyphs">Oracle</text>
<line x1="593.30" y1="272.30" x2="606.70" y2="272.30" stroke="#e41a1c" stroke-width="1.6" />
<text x="610.60" y="274.60" font-size="6.4" text-anchor="start" fill="#000000" stroke="#000000" stroke-width="0.128" textLength="26.50" lengthAdjust="spacingAndGlyphs">Negative</text>
<line x1="593.30" y1="281.00" x2="606.70" y2="281.00" stroke="#377eb8" stroke-width="1.6" />
<text x="610.60" y="283.30" font-size="6.4" text-anchor="start" fill="#000000" stroke="#000000" stroke-width="0.128" textLength="12.50" lengthAdjust="spacingAndGlyphs">KM2</text>
<line x1="593.30" y1="289.70" x2="606.70" y2="289.70" stroke="#ff7f00" stroke-width="1.6" />
<text x="610.60" y="292.00" font-size="6.4" text-anchor="start" fill="#000000" stroke="#000000" stroke-width="0.128" textLength="11.70" lengthAdjust="spacingAndGlyphs">BBE</text>
<line x1="593.30" y1="298.40" x2="606.70" y2="298.40" stroke="#ffb6c1" stroke-width="1.9" />
<text x="610.60" y="300.70" font-size="6.4" text-anchor="start" fill="#000000" stroke="#000000" stroke-width="0.128" textLength="24.20" lengthAdjust="spacingAndGlyphs">DEDPUL</text>
<line x1="593.30" y1="307.10" x2="606.70" y2="307.10" stroke="#984ea3" stroke-width="1.9" />
<text x="610.60" y="309.40" font-size="6.4" text-anchor="start" fill="#000000" stroke="#000000" stroke-width="0.128" textLength="22.50" lengthAdjust="spacingAndGlyphs">PURPLE</text>
</svg></body></html>
